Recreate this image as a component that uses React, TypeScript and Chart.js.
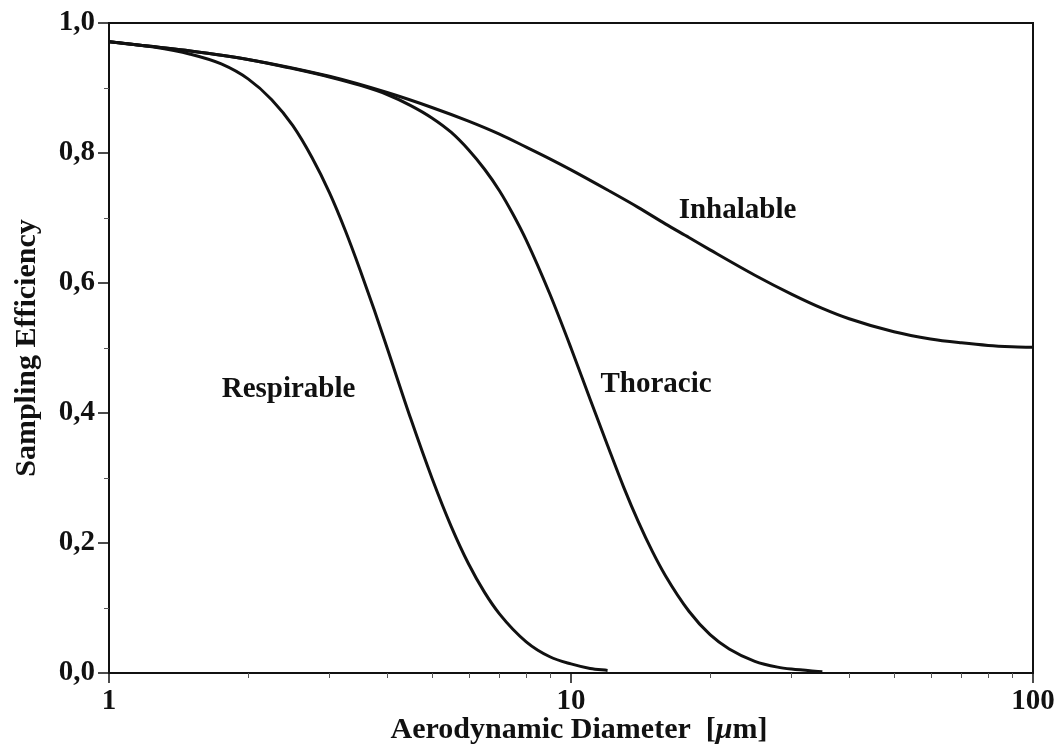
import React, { useEffect, useRef } from "react";
import { Chart, registerables } from "chart.js";

Chart.register(...registerables);

const FONT = "'Liberation Serif', 'Times New Roman', Times, serif";
const INK = "#111111";

// Respirable convention
const respirableD = [1, 1.25, 1.5, 1.75, 2, 2.25, 2.5, 2.75, 3, 3.25, 3.5, 3.75, 4, 4.5, 5, 5.5, 6, 6.5, 7, 8, 9, 10, 11, 12];
const respirableE = [0.971, 0.963, 0.952, 0.937, 0.914, 0.882, 0.842, 0.793, 0.739, 0.68, 0.619, 0.559, 0.5, 0.391, 0.3, 0.226, 0.168, 0.124, 0.091, 0.048, 0.025, 0.014, 0.007, 0.004];

// Thoracic convention
const thoracicD = [1, 1.5, 2, 2.5, 3, 3.5, 4, 4.5, 5, 5.5, 6, 6.5, 7, 7.5, 8, 9, 10, 11, 12, 13, 14, 15, 16, 18, 20, 22, 25, 28, 30, 35];
const thoracicE = [0.971, 0.957, 0.944, 0.93, 0.917, 0.904, 0.89, 0.873, 0.854, 0.832, 0.805, 0.775, 0.742, 0.705, 0.666, 0.583, 0.5, 0.421, 0.35, 0.286, 0.232, 0.187, 0.15, 0.095, 0.059, 0.037, 0.018, 0.009, 0.006, 0.002];

// Inhalable convention
const inhalableD = [1, 1.5, 2, 3, 4, 5, 6, 7, 8, 9, 10, 12, 14, 16, 18, 20, 25, 30, 35, 40, 50, 60, 70, 80, 90, 100];
const inhalableE = [0.971, 0.957, 0.944, 0.918, 0.893, 0.87, 0.849, 0.829, 0.809, 0.791, 0.774, 0.743, 0.716, 0.691, 0.67, 0.651, 0.612, 0.583, 0.561, 0.545, 0.525, 0.514, 0.508, 0.504, 0.502, 0.501];

// Axis ticks
const xTickValues = [1, 2, 3, 4, 5, 6, 7, 8, 9, 10, 20, 30, 40, 50, 60, 70, 80, 90, 100];
const xLabelValues = [1, 10, 100];
const yTickValues = [0, 0.1, 0.2, 0.3, 0.4, 0.5, 0.6, 0.7, 0.8, 0.9, 1.0];
const yLabelValues = [0, 0.2, 0.4, 0.6, 0.8, 1.0];

// Axis title parts (μ is set in italics)
const xTitleParts = ["Aerodynamic Diameter  [", "μ", "m]"];
const xTitleItalic = [false, true, false];

// Curve labels (in data coordinates)
const curveLabels = ["Respirable", "Thoracic", "Inhalable"];
const curveLabelX = [2.447, 15.28, 22.93];
const curveLabelY = [0.4246, 0.432, 0.7];

const isYLabel = (v: number) => yLabelValues.some((l) => Math.abs(l - v) < 1e-6);
const isXLabel = (v: number) => xLabelValues.some((l) => Math.abs(l - v) < 1e-6);

const toPoints = (d: number[], e: number[]) => d.map((x, i) => ({ x, y: e[i] }));

const framePlugin = {
  id: "frameAndTicks",
  afterDraw(chart: any) {
    const { ctx, chartArea: a, scales } = chart;
    const xs = scales.x;
    const ys = scales.y;
    ctx.save();
    // frame
    ctx.strokeStyle = INK;
    ctx.lineWidth = 2;
    ctx.strokeRect(a.left, a.top, a.right - a.left, a.bottom - a.top);

    // major tick marks
    ctx.beginPath();
    xTickValues.filter(isXLabel).forEach((v) => {
      const px = Math.round(xs.getPixelForValue(v));
      ctx.moveTo(px, a.bottom);
      ctx.lineTo(px, a.bottom + 10);
    });
    yTickValues.filter(isYLabel).forEach((v) => {
      const py = Math.round(ys.getPixelForValue(v));
      ctx.moveTo(a.left, py);
      ctx.lineTo(a.left - 11, py);
    });
    ctx.lineWidth = 1.5;
    ctx.strokeStyle = INK;
    ctx.stroke();

    // minor tick marks
    ctx.beginPath();
    xTickValues.filter((v) => !isXLabel(v)).forEach((v) => {
      const px = Math.round(xs.getPixelForValue(v)) + 0.5;
      ctx.moveTo(px, a.bottom);
      ctx.lineTo(px, a.bottom + 5);
    });
    yTickValues.filter((v) => !isYLabel(v)).forEach((v) => {
      const py = Math.round(ys.getPixelForValue(v)) + 0.5;
      ctx.moveTo(a.left, py);
      ctx.lineTo(a.left - 5, py);
    });
    ctx.lineWidth = 1;
    ctx.strokeStyle = "#555555";
    ctx.stroke();

    // curve labels
    ctx.fillStyle = INK;
    ctx.font = `bold 29px ${FONT}`;
    ctx.textAlign = "center";
    ctx.textBaseline = "alphabetic";
    curveLabels.forEach((t, i) => {
      ctx.fillText(t, xs.getPixelForValue(curveLabelX[i]), ys.getPixelForValue(curveLabelY[i]));
    });

    // x axis title with italic mu
    const fonts = xTitleItalic.map((it) => `${it ? "italic " : ""}bold 30px ${FONT}`);
    const widths = xTitleParts.map((t, i) => {
      ctx.font = fonts[i];
      return ctx.measureText(t).width;
    });
    const total = widths.reduce((s, w) => s + w, 0);
    let cx = (a.left + a.right) / 2 + 8 - total / 2;
    const baseY = a.bottom + 65;
    ctx.textAlign = "left";
    xTitleParts.forEach((t, i) => {
      ctx.font = fonts[i];
      ctx.fillText(t, cx, baseY);
      cx += widths[i];
    });
    ctx.restore();
  },
};

export default function App() {
  const canvasRef = useRef<HTMLCanvasElement | null>(null);

  useEffect(() => {
    if (!canvasRef.current) return;
    const lineStyle = {
      borderColor: INK,
      borderWidth: 3,
      pointRadius: 0,
      pointHoverRadius: 0,
      fill: false,
      cubicInterpolationMode: "monotone" as const,
    };
    const tickFont = { family: FONT, size: 29, weight: "bold" as const };
    const chart = new Chart(canvasRef.current, {
      type: "line",
      data: {
        datasets: [
          { label: "Respirable", data: toPoints(respirableD, respirableE), ...lineStyle },
          { label: "Thoracic", data: toPoints(thoracicD, thoracicE), ...lineStyle },
          { label: "Inhalable", data: toPoints(inhalableD, inhalableE), ...lineStyle },
        ],
      },
      options: {
        animation: false,
        responsive: false,
        devicePixelRatio: 1,
        layout: { padding: { top: 23, right: 23, bottom: 0, left: 0 } },
        plugins: { legend: { display: false }, tooltip: { enabled: false } },
        scales: {
          x: {
            type: "logarithmic",
            min: 1,
            max: 100,
            afterBuildTicks: (s: any) => {
              s.ticks = xTickValues.map((v) => ({ value: v }));
            },
            afterFit: (s: any) => {
              s.height = 75;
              s.paddingLeft = 0;
              s.paddingRight = 0;
            },
            grid: { display: false, drawTicks: false },
            border: { display: false },
            ticks: {
              autoSkip: false,
              maxRotation: 0,
              minRotation: 0,
              padding: 11,
              color: INK,
              font: tickFont,
              callback: (v: any) => (isXLabel(Number(v)) ? String(Number(v)) : ""),
            },
            title: { display: false },
          },
          y: {
            type: "linear",
            min: 0,
            max: 1,
            afterBuildTicks: (s: any) => {
              s.ticks = yTickValues.map((v) => ({ value: v }));
            },
            afterFit: (s: any) => {
              s.width = 109;
              s.paddingTop = 0;
              s.paddingBottom = 0;
            },
            grid: { display: false, drawTicks: false },
            border: { display: false },
            ticks: {
              autoSkip: false,
              padding: 14,
              color: INK,
              font: tickFont,
              callback: (v: any) => (isYLabel(Number(v)) ? Number(v).toFixed(1).replace(".", ",") : ""),
            },
            title: {
              display: true,
              text: "Sampling Efficiency",
              color: INK,
              font: { family: FONT, size: 30, weight: "bold" as const },
              padding: { top: 9, bottom: 0 },
            },
          },
        },
      },
      plugins: [framePlugin],
    });
    return () => chart.destroy();
  }, []);

  return (
    <div style={{ position: "absolute", left: 0, top: 0, width: 1056, height: 748, background: "#ffffff" }}>
      <canvas ref={canvasRef} width={1056} height={748} style={{ display: "block", width: 1056, height: 748 }} />
    </div>
  );
}
